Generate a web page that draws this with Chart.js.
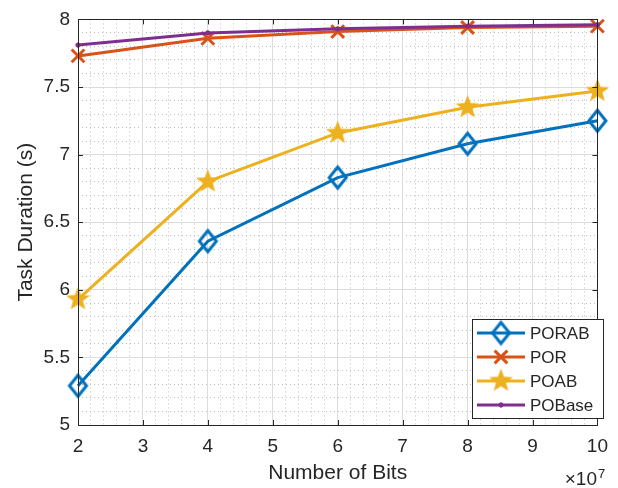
<!DOCTYPE html>
<html>
<head>
<meta charset="utf-8">
<title>Task Duration</title>
<script src="https://cdn.jsdelivr.net/npm/chart.js@4.4.1/dist/chart.umd.min.js"></script>
<style>
  html, body { margin: 0; padding: 0; background: #fff; }
  #wrap { width: 618px; height: 488px; }
</style>
</head>
<body>
<div id="wrap"><canvas id="myChart" width="618" height="488"></canvas></div>
<script>
// number of bits (x 10^7)
const bits = [2, 4, 6, 8, 10];
const porab = [5.29, 6.36, 6.83, 7.08, 7.25];
const por = [7.73, 7.86, 7.91, 7.94, 7.95];
const poab = [5.93, 6.80, 7.16, 7.35, 7.47];
const pobase = [7.81, 7.90, 7.93, 7.95, 7.96];

const xTicks = [2, 3, 4, 5, 6, 7, 8, 9, 10];
const yTicks = [5, 5.5, 6, 6.5, 7, 7.5, 8];
const xMinorStep = 0.2;
const yMinorStep = 0.1;

const FONT = '"Liberation Sans", Arial, Helvetica, sans-serif';
const INK = '#262626';

const blue = '#0072BD';
const orange = '#D95319';
const yellow = '#EDB120';
const purple = '#7E2F8E';

// filled five point star
function makeStar(color, r) {
  const c = document.createElement('canvas');
  const size = Math.ceil(r * 2 + 2);
  c.width = size;
  c.height = size;
  const g = c.getContext('2d');
  const cx = size / 2, cy = size / 2;
  g.beginPath();
  for (let i = 0; i < 10; i++) {
    const rr = i % 2 === 0 ? r : r * 0.42;
    const a = -Math.PI / 2 + i * Math.PI / 5;
    const px = cx + rr * Math.cos(a);
    const py = cy + rr * Math.sin(a);
    if (i === 0) g.moveTo(px, py); else g.lineTo(px, py);
  }
  g.closePath();
  g.fillStyle = color;
  g.fill();
  return c;
}

// hollow diamond, a little taller than wide
function makeDiamond(color, hw, hh, lw) {
  const c = document.createElement('canvas');
  const w = Math.ceil(hw * 2 + lw * 2), h = Math.ceil(hh * 2 + lw * 2);
  c.width = w;
  c.height = h;
  const g = c.getContext('2d');
  const cx = w / 2, cy = h / 2;
  g.beginPath();
  g.moveTo(cx, cy - hh);
  g.lineTo(cx + hw, cy);
  g.lineTo(cx, cy + hh);
  g.lineTo(cx - hw, cy);
  g.closePath();
  g.strokeStyle = color;
  g.lineWidth = lw;
  g.lineJoin = 'miter';
  g.stroke();
  return c;
}

const starImg = makeStar(yellow, 12.5);
const diamondImg = makeDiamond(blue, 8.5, 10.5, 3);

function series(label, values, color, style, radius, order) {
  return {
    label,
    data: bits.map((b, i) => ({ x: b, y: values[i] })),
    borderColor: color,
    backgroundColor: color,
    borderWidth: 3,
    pointStyle: style,
    pointRadius: radius,
    pointBorderWidth: 3,
    pointBackgroundColor: style === 'circle' ? color : 'rgba(0,0,0,0)',
    pointBorderColor: color,
    tension: 0,
    clip: false,
    order
  };
}

const datasets = [
  series('PORAB', porab, blue, diamondImg, 11, 4),
  series('POR', por, orange, 'crossRot', 9, 3),
  series('POAB', poab, yellow, starImg, 12, 2),
  series('POBase', pobase, purple, 'circle', 2.2, 1)
];
datasets[3].pointBorderWidth = 1;

function stepTicks(min, max, step) {
  const out = [];
  const n = Math.round((max - min) / step);
  for (let i = 0; i <= n; i++) out.push({ value: +(min + i * step).toFixed(4) });
  return out;
}

// box, inward tick marks, x10^7 label and legend
const decorations = {
  id: 'decorations',
  afterDraw(chart) {
    const { ctx, chartArea: a, scales } = chart;
    ctx.save();
    ctx.strokeStyle = INK;
    ctx.lineWidth = 1;
    ctx.beginPath();
    xTicks.forEach(v => {
      const px = Math.round(scales.x.getPixelForValue(v)) + 0.5;
      ctx.moveTo(px, a.bottom); ctx.lineTo(px, a.bottom - 5);
      ctx.moveTo(px, a.top); ctx.lineTo(px, a.top + 5);
    });
    yTicks.forEach(v => {
      const py = Math.round(scales.y.getPixelForValue(v)) + 0.5;
      ctx.moveTo(a.left, py); ctx.lineTo(a.left + 5, py);
      ctx.moveTo(a.right, py); ctx.lineTo(a.right - 5, py);
    });
    ctx.stroke();
    ctx.strokeRect(Math.round(a.left) + 0.5, Math.round(a.top) + 0.5,
      Math.round(a.right - a.left), Math.round(a.bottom - a.top));

    // exponent label
    ctx.fillStyle = INK;
    ctx.textBaseline = 'alphabetic';
    ctx.textAlign = 'right';
    ctx.font = '19px ' + FONT;
    ctx.fillText('\u00d710', 597, 485);
    ctx.textAlign = 'left';
    ctx.font = '13px ' + FONT;
    ctx.fillText('7', 598, 478);

    // legend
    const lx = 472, ly = 319, lw = 131, lh = 99;
    ctx.fillStyle = '#fff';
    ctx.fillRect(lx, ly, lw, lh);
    ctx.strokeStyle = INK;
    ctx.lineWidth = 1;
    ctx.strokeRect(lx + 0.5, ly + 0.5, lw, lh);
    ctx.font = '17px ' + FONT;
    ctx.textBaseline = 'middle';
    chart.data.datasets.forEach((ds, i) => {
      const y = ly + 14 + i * 24;
      ctx.strokeStyle = ds.borderColor;
      ctx.lineWidth = 3;
      ctx.beginPath();
      ctx.moveTo(477, y);
      ctx.lineTo(525, y);
      ctx.stroke();
      ctx.fillStyle = ds.pointBackgroundColor;
      ctx.strokeStyle = ds.pointBorderColor;
      ctx.lineWidth = ds.pointBorderWidth;
      Chart.helpers.drawPoint(ctx, {
        pointStyle: ds.pointStyle,
        radius: ds.pointRadius,
        borderWidth: ds.pointBorderWidth,
        rotation: 0
      }, 501, y);
      ctx.fillStyle = INK;
      ctx.textAlign = 'left';
      ctx.fillText(ds.label, 530, y + 1);
    });
    ctx.restore();
  }
};

const minorGrid = { color: '#bdbdbd', drawTicks: false, lineWidth: 1 };

const config = {
  type: 'line',
  data: { datasets },
  options: {
    responsive: false,
    animation: false,
    layout: { padding: { left: 0, top: 16, right: 11, bottom: 0 } },
    plugins: { legend: { display: false }, tooltip: { enabled: false } },
    scales: {
      xm: {
        type: 'linear', position: 'bottom', min: 2, max: 10,
        afterBuildTicks: s => { s.ticks = stepTicks(2, 10, xMinorStep); },
        afterFit: s => { s.height = 0; },
        ticks: { display: false },
        border: { display: false, dash: [1, 3] },
        grid: minorGrid
      },
      ym: {
        type: 'linear', position: 'left', min: 5, max: 8,
        afterBuildTicks: s => { s.ticks = stepTicks(5, 8, yMinorStep); },
        afterFit: s => { s.width = 0; },
        ticks: { display: false },
        border: { display: false, dash: [1, 3] },
        grid: minorGrid
      },
      x: {
        type: 'linear', position: 'bottom', min: 2, max: 10,
        afterBuildTicks: s => { s.ticks = xTicks.map(v => ({ value: v })); },
        afterFit: s => { s.height = 63; },
        border: { display: false },
        grid: { color: '#dcdcdc', drawTicks: false, lineWidth: 1 },
        ticks: { color: INK, font: { family: FONT, size: 19 }, padding: 10, maxRotation: 0,
          callback: v => String(v) },
        title: { display: true, text: 'Number of Bits', color: INK,
          font: { family: FONT, size: 21, lineHeight: 1.2 }, padding: { top: 0, bottom: 2 } }
      },
      y: {
        type: 'linear', position: 'left', min: 5, max: 8,
        afterBuildTicks: s => { s.ticks = yTicks.map(v => ({ value: v })); },
        afterFit: s => { s.width = 78; },
        border: { display: false },
        grid: { color: '#dcdcdc', drawTicks: false, lineWidth: 1 },
        ticks: { color: INK, font: { family: FONT, size: 19 }, padding: 8,
          callback: v => String(v) },
        title: { display: true, text: 'Task Duration (s)', color: INK,
          font: { family: FONT, size: 21, lineHeight: 1.2 }, padding: { top: 14, bottom: 0 } }
      }
    }
  },
  plugins: [decorations]
};

new Chart(document.getElementById('myChart'), config);
</script>
</body>
</html>
